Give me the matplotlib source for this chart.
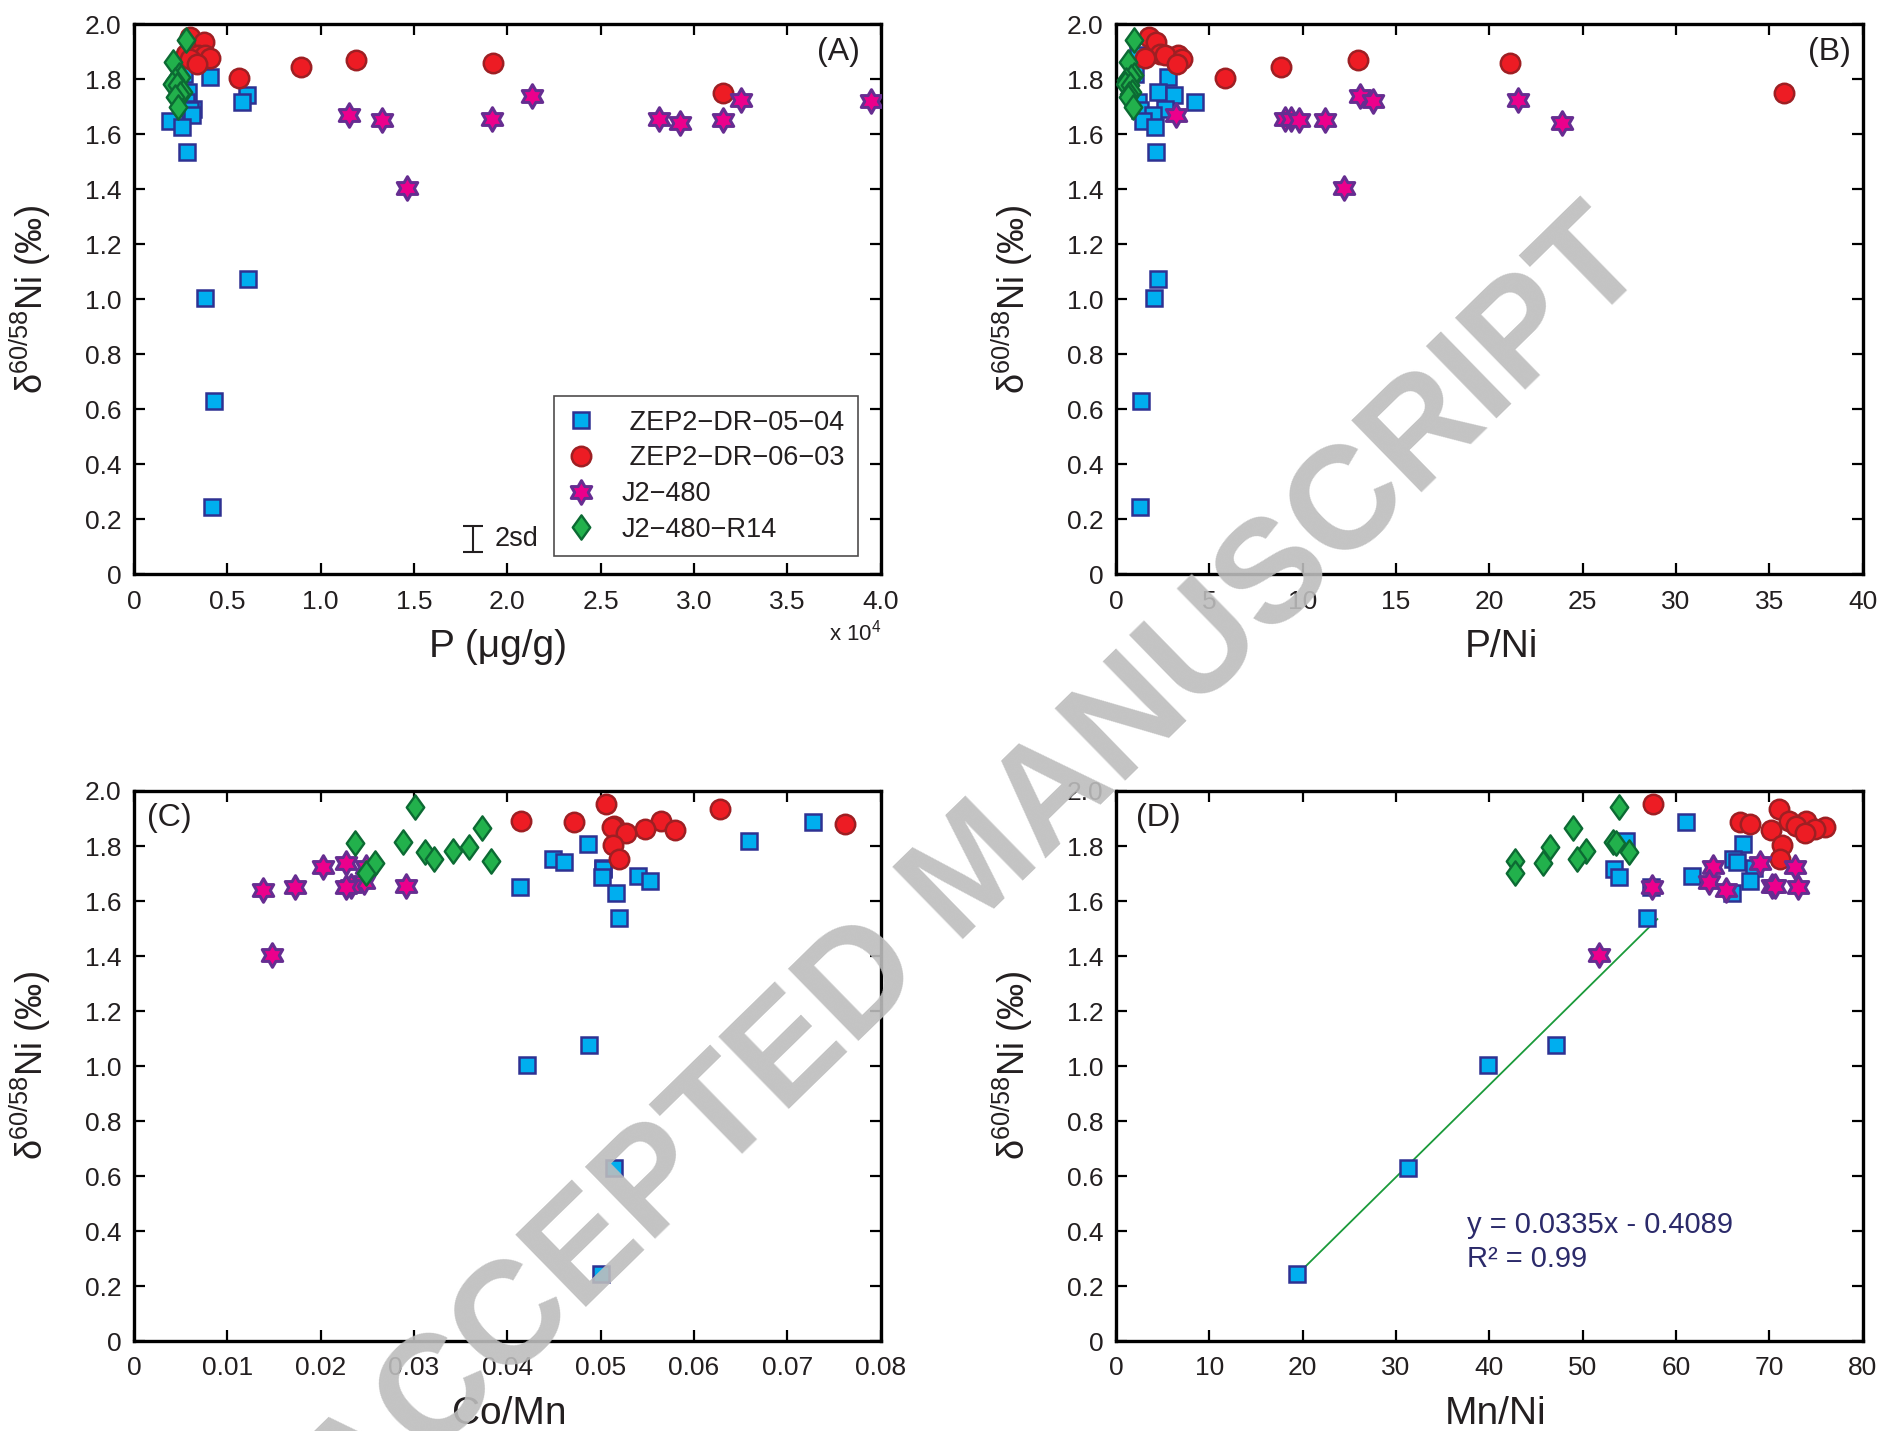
import numpy as np
import matplotlib
matplotlib.use('Agg')
import matplotlib.pyplot as plt
from matplotlib.path import Path
from matplotlib.ticker import FuncFormatter, MultipleLocator

plt.rcParams['font.family'] = ['Liberation Sans', 'DejaVu Sans']
plt.rcParams['mathtext.fontset'] = 'custom'
plt.rcParams['mathtext.rm'] = 'Liberation Sans'
plt.rcParams['mathtext.default'] = 'regular'

# ZEP2-DR-05-04
sq_d60 = [1.888, 1.818, 1.807, 1.752, 1.743, 1.719, 1.716, 1.691, 1.689, 1.671, 1.650, 1.628, 1.537, 1.075, 1.005, 0.629, 0.245]
sq_p = [3300, 2700, 4070, 2910, 6040, 2800, 5800, 3180, 3000, 3090, 1930, 2590, 2850, 6130, 3820, 4270, 4200]
sq_pni = [1.19, 1.00, 2.78, 2.27, 3.13, 4.23, 1.19, 2.62, 1.30, 2.00, 1.46, 2.09, 2.14, 2.23, 2.02, 1.32, 1.27]
sq_comn = [0.0727, 0.0659, 0.0486, 0.0449, 0.0461, 0.0502, 0.0503, 0.0540, 0.0501, 0.0553, 0.0414, 0.0516, 0.0520, 0.0488, 0.0421, 0.0514, 0.0500]
sq_mnni = [61.1, 54.6, 67.2, 66.1, 66.5, 68.3, 53.4, 61.7, 53.9, 67.9, 57.3, 66.0, 56.9, 47.1, 39.9, 31.3, 19.4]

# ZEP2-DR-06-03
ci_d60 = [1.953, 1.935, 1.892, 1.890, 1.888, 1.879, 1.873, 1.870, 1.861, 1.857, 1.846, 1.803, 1.751]
ci_p = [3000, 3750, 2800, 3440, 3800, 4050, 3000, 11890, 19210, 3350, 8940, 5640, 31530]
ci_pni = [1.78, 2.14, 2.36, 3.34, 2.62, 1.55, 3.52, 12.98, 21.10, 3.25, 8.84, 5.84, 35.76]
ci_comn = [0.0506, 0.0628, 0.0415, 0.0565, 0.0471, 0.0762, 0.0514, 0.0512, 0.0547, 0.0580, 0.0527, 0.0513, 0.0520]
ci_mnni = [57.5, 71.0, 72.1, 73.9, 66.9, 67.9, 72.9, 76.0, 74.9, 70.2, 73.8, 71.4, 71.1]

# J2-480
st_d60 = [1.739, 1.725, 1.722, 1.670, 1.655, 1.655, 1.652, 1.652, 1.640, 1.404]
st_p = [21300, 32500, 39500, 11530, 28120, 19190, 13300, 31530, 29260, 14600]
st_pni = [13.07, 21.55, 13.78, 3.21, 9.05, 9.37, 9.82, 11.19, 23.87, 12.23]
st_comn = [0.0227, 0.0249, 0.0203, 0.0246, 0.0233, 0.0291, 0.0172, 0.0227, 0.0138, 0.0148]
st_mnni = [69.0, 72.7, 64.0, 63.5, 70.3, 70.6, 57.4, 73.1, 65.4, 51.7]

# J2-480-R14
di_d60 = [1.943, 1.864, 1.816, 1.810, 1.797, 1.783, 1.779, 1.753, 1.747, 1.737, 1.701]
di_p = [2790, 2110, 2410, 2500, 2200, 2020, 2300, 2610, 2450, 2200, 2380]
di_pni = [0.96, 0.66, 0.96, 0.80, 0.55, 0.48, 0.75, 0.84, 0.70, 0.66, 0.93]
di_comn = [0.0301, 0.0373, 0.0288, 0.0237, 0.0359, 0.0342, 0.0312, 0.0321, 0.0383, 0.0258, 0.0249]
di_mnni = [53.9, 49.0, 53.3, 53.6, 46.5, 50.4, 55.0, 49.4, 42.7, 45.8, 42.7]

# Mn/Ni regression for the ZEP2-DR-05-04 trend
fit_slope = 0.0335
fit_icpt = -0.4089
fit_r2 = 0.99
fit_range = [19.5, 58.0]

TXT = '#231F20'


def hexagram():
    k = np.arange(12)
    ang = np.pi / 2 + k * np.pi / 6
    rad = np.where(k % 2 == 0, 1.0, 1 / np.sqrt(3))
    v = np.column_stack([rad * np.cos(ang), rad * np.sin(ang)])
    return Path(np.vstack([v, v[:1]]), closed=True)


def tall_diamond():
    v = np.array([[0, 1], [0.72, 0], [0, -1], [-0.72, 0], [0, 1]])
    return Path(v, closed=True)


styles = {
    'sq': dict(marker='s', ms=11.8, mfc='#00AEEF', mec='#2E3192', mew=1.8),
    'ci': dict(marker='o', ms=14, mfc='#ED1C24', mec='#9E1F23', mew=1.8),
    'st': dict(marker=hexagram(), ms=17, mfc='#EC008C', mec='#662D91', mew=2.2),
    'di': dict(marker=tall_diamond(), ms=17.5, mfc='#22B14C', mec='#0C6A33', mew=1.7),
}
labels = {'sq': ' ZEP2\u2212DR\u221205\u221204', 'ci': ' ZEP2\u2212DR\u221206\u221203',
          'st': 'J2\u2212480', 'di': 'J2\u2212480\u2212R14'}


def zero_fmt(dec):
    return FuncFormatter(lambda v, _: '0' if abs(v) < 1e-12 else f'{v:.{dec}f}')


def setup(ax, xmax, xstep, xdec, xlabel, label_x, tag, tag_x):
    ax.set_xlim(0, xmax)
    ax.set_ylim(0, 2.0)
    ax.xaxis.set_major_locator(MultipleLocator(xstep))
    ax.yaxis.set_major_locator(MultipleLocator(0.2))
    ax.xaxis.set_major_formatter(zero_fmt(xdec))
    ax.yaxis.set_major_formatter(zero_fmt(1))
    ax.tick_params(direction='in', length=8, width=1.6, top=True, right=True,
                   labelsize=19, labelcolor=TXT)
    ax.tick_params(axis='x', pad=11)
    ax.tick_params(axis='y', pad=9)
    for s in ax.spines.values():
        s.set_linewidth(2.4)
    ax.set_xlabel(xlabel, fontsize=28, color=TXT)
    ax.xaxis.set_label_coords(label_x, -0.1)
    ax.set_ylabel('δ$^{60/58}$Ni (‰)', fontsize=26, color=TXT)
    ax.yaxis.set_label_coords(-0.108, 0.5)
    ax.text(tag_x, 0.95, tag, transform=ax.transAxes, fontsize=23, color=TXT,
            ha='center', va='center')


def draw(ax, xs):
    out = []
    for key, x, y in zip(['sq', 'ci', 'st', 'di'], xs, [sq_d60, ci_d60, st_d60, di_d60]):
        h, = ax.plot(x, y, ls='none', label=labels[key], zorder=3, **styles[key])
        out.append(h)
    return out


fig = plt.figure(figsize=(18.82, 14.31), dpi=100)
w, h = 0.39676, 0.38435
axA = fig.add_axes([0.07120, 0.59867, w, h])
axB = fig.add_axes([0.59299, 0.59867, w, h])
axC = fig.add_axes([0.07120, 0.06289, w, h])
axD = fig.add_axes([0.59299, 0.06289, w, h])

# (A) P, plotted in units of 10^4 ug/g
handles = draw(axA, [np.array(sq_p) / 1e4, np.array(ci_p) / 1e4,
                     np.array(st_p) / 1e4, np.array(di_p) / 1e4])
setup(axA, 4.0, 0.5, 1, 'P (μg/g)', 0.488, '(A)', 0.943)
axA.text(0.966, -0.106, 'x 10$^4$', transform=axA.transAxes, fontsize=16,
         color=TXT, ha='center', va='center')
axA.errorbar([1.816], [0.128], yerr=[0.047], fmt='none', ecolor=TXT,
             elinewidth=1.5, capsize=7, capthick=1.5)
axA.text(1.93, 0.128, '2sd', fontsize=19.5, color=TXT, va='center', ha='left')
leg = axA.legend(handles=handles, loc='upper left', bbox_to_anchor=(0.5625, 0.324),
                 borderaxespad=0, fontsize=19.5, frameon=True, fancybox=False,
                 handlelength=1.0, handletextpad=1.0, labelspacing=0.36,
                 borderpad=0.5, numpoints=1)
leg.get_frame().set_edgecolor(TXT)
leg.get_frame().set_linewidth(1.2)
for t in leg.get_texts():
    t.set_color(TXT)

# (B) P/Ni
draw(axB, [sq_pni, ci_pni, st_pni, di_pni])
setup(axB, 40, 5, 0, 'P/Ni', 0.516, '(B)', 0.955)

# (C) Co/Mn
draw(axC, [sq_comn, ci_comn, st_comn, di_comn])
setup(axC, 0.08, 0.01, 2, 'Co/Mn', 0.502, '(C)', 0.047)

# (D) Mn/Ni with linear fit
fx = np.array(fit_range)
axD.plot(fx, fit_slope * fx + fit_icpt, color='#1A9A3A', lw=1.3, zorder=2)
draw(axD, [sq_mnni, ci_mnni, st_mnni, di_mnni])
setup(axD, 80, 10, 0, 'Mn/Ni', 0.508, '(D)', 0.056)
axD.text(37.6, 0.36, f'y = {fit_slope}x - {abs(fit_icpt)}\nR² = {fit_r2}',
         fontsize=21, color='#2B2A6A', ha='left', va='center', linespacing=1.3)

fig.text(0.519, 0.39, 'ACCEPTED MANUSCRIPT', rotation=44.3, rotation_mode='anchor',
         fontsize=105, fontweight='bold', color='#BDBDBD', alpha=0.9,
         ha='center', va='center', zorder=10)

fig.savefig('out.png', dpi=100)
